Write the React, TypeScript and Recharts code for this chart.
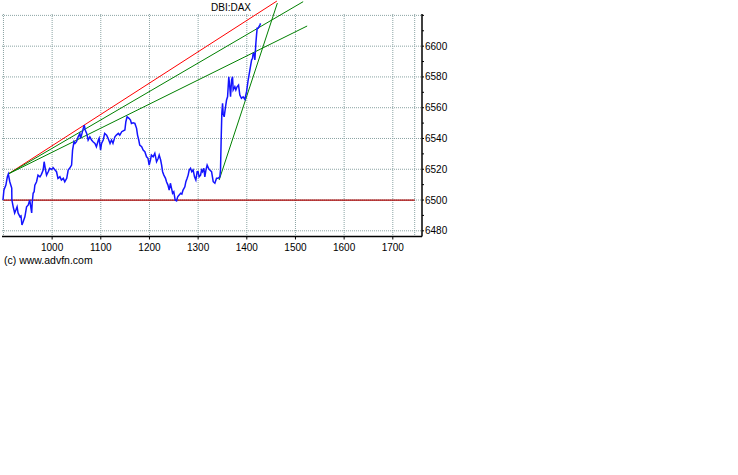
import React from 'react';
import { LineChart, Line, XAxis, YAxis, CartesianGrid, ReferenceLine } from 'recharts';

const times = [
  899, 901, 905, 908, 910, 913, 917, 917.3, 920, 923,
  925.5, 928, 930, 934, 936, 938, 940.5, 944, 947.5, 951,
  954, 958, 959, 961, 963, 964.5, 968, 971, 975, 978,
  981.6, 983.6, 986.5, 988.6, 992, 995, 999, 1002, 1006, 1009,
  1012, 1016, 1019, 1023, 1026, 1030, 1033, 1036, 1040, 1042,
  1045, 1047, 1050, 1053.5, 1057, 1058.4, 1060.5, 1064, 1066, 1068,
  1071, 1074, 1077.5, 1081, 1084, 1088, 1091, 1095, 1096.6, 1099.5,
  1101.6, 1105, 1108, 1112, 1115, 1119, 1122, 1125, 1129, 1132,
  1136, 1139, 1143, 1149.5, 1151.5, 1154, 1158, 1161, 1163, 1166.5,
  1170, 1173.5, 1175.5, 1178, 1180, 1184, 1187, 1190.5, 1194, 1197,
  1199.4, 1202, 1204, 1207.6, 1211, 1214.6, 1218, 1220, 1223, 1225,
  1227, 1229.6, 1233, 1235, 1238, 1240.5, 1243, 1245.4, 1247.5, 1250,
  1252.8, 1255.7, 1258, 1261, 1264, 1266.6, 1269, 1272.7, 1274.8, 1277.4,
  1279.5, 1281.6, 1284.4, 1287, 1289.8, 1292.6, 1295.3, 1298, 1300, 1302,
  1305, 1307, 1309, 1311.7, 1313.8, 1316, 1318.5, 1321.4, 1324, 1327.6,
  1331, 1334.4, 1337.8, 1341, 1344.6, 1346, 1347.3, 1348.7, 1350.2, 1351.4,
  1353.5, 1356.3, 1358.4, 1360.5, 1363, 1365, 1366.6, 1368.7, 1370.7, 1372,
  1375.4, 1377.5, 1380, 1383, 1385.7, 1389, 1392.5, 1396, 1399.5, 1402.8,
  1406.3, 1409.8, 1411.8, 1413, 1415, 1416.6, 1418.6, 1420, 1421.3, 1423.3,
  1424.8, 1426.8, 1428.3,
];

const prices = [
  6500, 6506.5, 6509.7, 6515.1, 6516.9, 6511.9, 6507.8, 6500, 6495.6, 6491.6,
  6493.5, 6495.6, 6491.6, 6489.1, 6489.6, 6483.8, 6485.9, 6489.1, 6495.6, 6496.8,
  6500, 6491.6, 6497.9, 6504.4, 6505.4, 6509.7, 6511.9, 6516.2, 6515.1, 6516.7,
  6519.5, 6524.9, 6519.5, 6516.2, 6518.4, 6520.6, 6519.9, 6521.0, 6519.5, 6518.4,
  6514.1, 6515.1, 6513.0, 6514.1, 6511.9, 6514.1, 6519.5, 6520.6, 6522.7, 6532.5,
  6537.9, 6536.8, 6537.9, 6541.1, 6543.3, 6540.1, 6542.2, 6546.6, 6548.7, 6545.5,
  6543.3, 6539.0, 6541.1, 6539.0, 6537.9, 6536.8, 6534.6, 6539.0, 6540.1, 6532.5,
  6536.8, 6539.0, 6543.3, 6542.2, 6540.1, 6536.8, 6539.0, 6536.8, 6541.1, 6542.2,
  6543.3, 6542.2, 6544.4, 6545.5, 6550.9, 6554.1, 6553.1, 6552.0, 6549.8, 6550.2,
  6549.8, 6546.6, 6542.2, 6539.0, 6535.7, 6534.6, 6532.5, 6531.4, 6528.1, 6527.1,
  6522.7, 6526.0, 6529.2, 6528.1, 6530.3, 6524.9, 6527.1, 6529.2, 6526.0, 6522.7,
  6518.4, 6516.2, 6514.1, 6511.9, 6509.7, 6506.5, 6510.9, 6507.6, 6504.4, 6505.4,
  6500, 6499.5, 6502.1, 6503.2, 6504.4, 6503.9, 6506.5, 6508.6, 6511.9, 6514.1,
  6516.2, 6519.5, 6520.6, 6518.4, 6519.5, 6515.1, 6513.0, 6518.4, 6518.4, 6515.1,
  6516.2, 6519.5, 6518.4, 6520.6, 6515.1, 6519.5, 6522.7, 6520.6, 6519.5, 6518.4,
  6511.9, 6510.9, 6514.1, 6514.1, 6515.1, 6519.5, 6539.0, 6556.3, 6562.8, 6556.3,
  6554.1, 6560.6, 6565.0, 6567.1, 6580.1, 6573.6, 6567.1, 6578.0, 6580.1, 6571.5,
  6573.6, 6571.5, 6573.6, 6574.7, 6568.2, 6566.1, 6567.1, 6565.4, 6570.4, 6578.0,
  6584.5, 6591.0, 6592.1, 6595.3, 6595.3, 6591.0, 6601.8, 6607.2, 6611.6, 6611.6,
  6612.6, 6613.7, 6614.8,
];

const xTicks = [1000, 1100, 1200, 1300, 1400, 1500, 1600, 1700];
const yTicks = [6480, 6490, 6500, 6510, 6520, 6530, 6540, 6550, 6560, 6570, 6580, 6590, 6600, 6610, 6620];
const gridX = [900, 1000, 1100, 1200, 1300, 1400, 1500, 1600, 1700, 1745];
const gridY = [6480, 6500, 6520, 6540, 6560, 6580, 6600, 6620];

const baseLevel = 6500;
const baseFrom = 900;
const baseTo = 1745;

const trendStart = { x: 909.7, y: 6516.9 };
const redEnd = { x: 1461.8, y: 6629.3 };
const greenUpperEnd = { x: 1515.8, y: 6628.9 };
const greenLowerEnd = { x: 1524.0, y: 6613.1 };
const steepStart = { x: 1343.2, y: 6513.0 };
const steepEnd = { x: 1462.8, y: 6628.0 };

const xDomain = [897, 1760];
const yDomain = [6476.3, 6620.9];

const title = 'DBI:DAX';
const copyright = '(c) www.advfn.com';

const data = times.map((t, i) => ({ t, v: prices[i] }));

const FONT = "'Liberation Sans Narrow', 'Arial Narrow', 'Liberation Sans', Arial, sans-serif";

export default function App() {
  const tickStyle = { fill: '#000', fontSize: 10, fontFamily: FONT };
  return (
    <div style={{ position: 'absolute', left: 0, top: 0, width: 738, height: 475, background: '#fff' }}>
      <div
        style={{
          position: 'absolute', left: 0, top: 3, width: 462, textAlign: 'center',
          fontFamily: FONT, fontSize: 10, lineHeight: '10px', color: '#000',
        }}
      >
        {title}
      </div>
      <div
        style={{
          position: 'absolute', left: 4, top: 255, fontFamily: FONT, fontSize: 10.5,
          lineHeight: '10px', color: '#000',
        }}
      >
        {copyright}
      </div>
      <LineChart width={738} height={475} data={data} margin={{ top: 14, right: 276, bottom: 218.5, left: 2 }}>
        <CartesianGrid
          stroke="#8aa3a3"
          strokeDasharray="1 1"
          horizontalValues={gridY}
          verticalValues={gridX}
        />
        <XAxis
          dataKey="t"
          type="number"
          domain={xDomain}
          ticks={xTicks}
          allowDataOverflow
          interval={0}
          height={20}
          tickSize={3}
          tickMargin={4}
          tick={tickStyle}
          tickLine={{ stroke: '#000' }}
          axisLine={{ stroke: '#000', strokeWidth: 1.5 }}
        />
        <XAxis
          xAxisId="top"
          orientation="top"
          type="number"
          domain={xDomain}
          allowDataOverflow
          height={0}
          tick={false}
          tickLine={false}
          axisLine={{ stroke: '#000', strokeWidth: 1.5 }}
        />
        <YAxis
          orientation="right"
          type="number"
          domain={yDomain}
          ticks={yTicks}
          allowDataOverflow
          interval={0}
          width={40}
          tickSize={2}
          tickMargin={1}
          tick={tickStyle}
          tickFormatter={(v: number) => (v % 20 === 0 && v <= 6600 ? String(v) : '')}
          tickLine={{ stroke: '#000' }}
          axisLine={{ stroke: '#000', strokeWidth: 1.5 }}
        />
        <YAxis
          yAxisId="left"
          orientation="left"
          mirror
          type="number"
          domain={yDomain}
          ticks={yTicks}
          allowDataOverflow
          interval={0}
          width={0}
          tickSize={3}
          tick={tickStyle}
          tickFormatter={() => ''}
          tickLine={{ stroke: '#000' }}
          axisLine={{ stroke: '#000', strokeWidth: 1.5 }}
        />
        <ReferenceLine
          segment={[{ x: baseFrom, y: baseLevel }, { x: baseTo, y: baseLevel }]}
          stroke="#a80000"
          strokeWidth={1.2}
          ifOverflow="visible"
        />
        <ReferenceLine segment={[trendStart, redEnd]} stroke="#ff0000" strokeWidth={1} ifOverflow="visible" />
        <ReferenceLine segment={[trendStart, greenUpperEnd]} stroke="#008000" strokeWidth={1} ifOverflow="visible" />
        <ReferenceLine segment={[trendStart, greenLowerEnd]} stroke="#008000" strokeWidth={1} ifOverflow="visible" />
        <ReferenceLine segment={[steepStart, steepEnd]} stroke="#008000" strokeWidth={1} ifOverflow="visible" />
        <Line
          type="linear"
          dataKey="v"
          stroke="#1414ff"
          strokeWidth={1.5}
          dot={false}
          isAnimationActive={false}
        />
      </LineChart>
    </div>
  );
}
